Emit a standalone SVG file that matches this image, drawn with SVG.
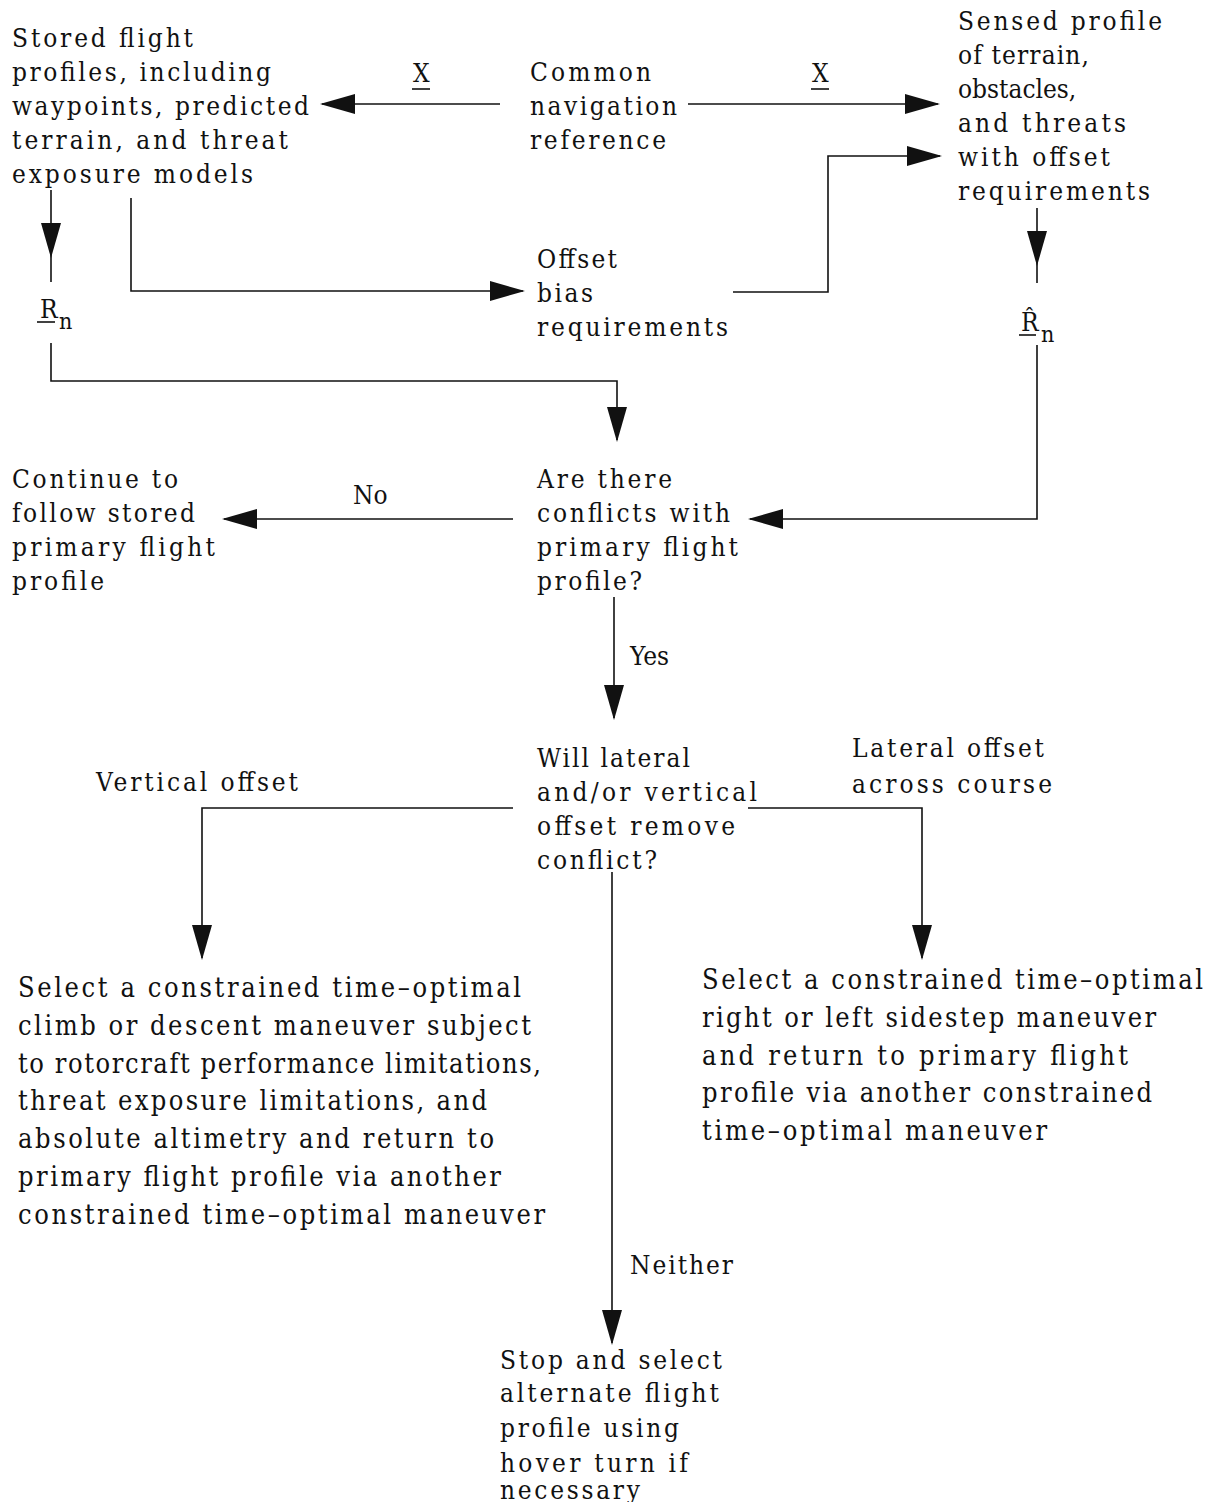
<svg xmlns="http://www.w3.org/2000/svg" xmlns:xlink="http://www.w3.org/1999/xlink" width="1209" height="1502" viewBox="0 0 1209 1502">
  <style>
    text { font-family: "DejaVu Serif Condensed", "DejaVu Serif", "Liberation Serif", serif; font-size: 26px; fill: #111; }
    .big { font-size: 27px; }
    .sub { font-size: 23px; }
    .wire { fill: none; stroke: #111; stroke-width: 1.6; }
    .ul { stroke: #111; stroke-width: 1.6; }
  </style>
  <defs>
    <!-- filled arrowhead, tip at the origin, pointing along +x -->
    <path id="ah" d="M0,0 L-35,-10 L-35,10 Z" fill="#111"/>
  </defs>
  <rect width="1209" height="1502" fill="#fff"/>

  <g id="connectors">
    <!-- common reference out to both sides -->
    <path class="wire" d="M500,104 H322"/>
    <use xlink:href="#ah" transform="translate(320,104) rotate(180)"/>
    <text x="413" y="82">X</text>
    <line class="ul" x1="412" y1="89" x2="430" y2="89"/>
    <path class="wire" d="M688,104 H938"/>
    <use xlink:href="#ah" transform="translate(940,104)"/>
    <text x="812" y="82">X</text>
    <line class="ul" x1="811" y1="89" x2="829" y2="89"/>

    <!-- stored profiles to offset bias -->
    <path class="wire" d="M131,198 V291 H523"/>
    <use xlink:href="#ah" transform="translate(525,291)"/>
    <!-- offset bias to sensed profile -->
    <path class="wire" d="M733,292 H828 V156 H940"/>
    <use xlink:href="#ah" transform="translate(942,156)"/>

    <!-- stored profiles down to R_n -->
    <path class="wire" d="M51,190 V282"/>
    <use xlink:href="#ah" transform="translate(51,258) rotate(90)"/>
    <text x="40" y="318">R</text>
    <text class="sub" x="59" y="329">n</text>
    <line class="ul" x1="37" y1="322" x2="55" y2="322"/>
    <!-- R_n to the conflict test -->
    <path class="wire" d="M51,343 V381 H617 V440"/>
    <use xlink:href="#ah" transform="translate(617,442) rotate(90)"/>

    <!-- sensed profile down to R-hat_n -->
    <path class="wire" d="M1037,208 V283"/>
    <use xlink:href="#ah" transform="translate(1037,266) rotate(90)"/>
    <text x="1021" y="331">R̂</text>
    <text class="sub" x="1041" y="342">n</text>
    <line class="ul" x1="1019" y1="335" x2="1036" y2="335"/>
    <!-- R-hat_n to the conflict test -->
    <path class="wire" d="M1037,345 V519 H750"/>
    <use xlink:href="#ah" transform="translate(748,519) rotate(180)"/>

    <!-- No -->
    <path class="wire" d="M513,519 H224"/>
    <use xlink:href="#ah" transform="translate(222,519) rotate(180)"/>
    <text x="353" y="504">No</text>

    <!-- Yes -->
    <path class="wire" d="M614,597 V718"/>
    <use xlink:href="#ah" transform="translate(614,720) rotate(90)"/>
    <text x="630" y="665">Yes</text>

    <!-- Vertical offset branch -->
    <path class="wire" d="M513,808 H202 V958"/>
    <use xlink:href="#ah" transform="translate(202,960) rotate(90)"/>
    <text x="96" y="791" textLength="202" lengthAdjust="spacing">Vertical offset</text>

    <!-- Lateral offset branch -->
    <path class="wire" d="M748,808 H922 V958"/>
    <use xlink:href="#ah" transform="translate(922,960) rotate(90)"/>
    <text x="852" y="757" textLength="192" lengthAdjust="spacing">Lateral offset</text>
    <text x="852" y="793" textLength="200" lengthAdjust="spacing">across course</text>

    <!-- Neither -->
    <path class="wire" d="M612,872 V1343"/>
    <use xlink:href="#ah" transform="translate(612,1345) rotate(90)"/>
    <text x="630" y="1274" textLength="103" lengthAdjust="spacing">Neither</text>
  </g>

  <g id="stored-profiles">
    <text x="12" y="47" textLength="181" lengthAdjust="spacing">Stored flight</text>
    <text x="12" y="81" textLength="259" lengthAdjust="spacing">profiles, including</text>
    <text x="12" y="115" textLength="297" lengthAdjust="spacing">waypoints, predicted</text>
    <text x="12" y="149" textLength="276" lengthAdjust="spacing">terrain, and threat</text>
    <text x="12" y="183" textLength="241" lengthAdjust="spacing">exposure models</text>
  </g>

  <g id="common-reference">
    <text x="530" y="81" textLength="121" lengthAdjust="spacing">Common</text>
    <text x="530" y="115" textLength="147" lengthAdjust="spacing">navigation</text>
    <text x="530" y="149" textLength="136" lengthAdjust="spacing">reference</text>
  </g>

  <g id="sensed-profile">
    <text x="958" y="30" textLength="204" lengthAdjust="spacing">Sensed profile</text>
    <text x="958" y="64" textLength="131" lengthAdjust="spacing">of terrain,</text>
    <text x="958" y="98">obstacles,</text>
    <text x="958" y="132" textLength="168" lengthAdjust="spacing">and threats</text>
    <text x="958" y="166" textLength="152" lengthAdjust="spacing">with offset</text>
    <text x="958" y="200" textLength="192" lengthAdjust="spacing">requirements</text>
  </g>

  <g id="offset-bias">
    <text x="537" y="268" textLength="80" lengthAdjust="spacing">Offset</text>
    <text x="537" y="302" textLength="56" lengthAdjust="spacing">bias</text>
    <text x="537" y="336" textLength="191" lengthAdjust="spacing">requirements</text>
  </g>

  <g id="conflict-test">
    <text x="537" y="488" textLength="135" lengthAdjust="spacing">Are there</text>
    <text x="537" y="522" textLength="193" lengthAdjust="spacing">conflicts with</text>
    <text x="537" y="556" textLength="201" lengthAdjust="spacing">primary flight</text>
    <text x="537" y="590" textLength="105" lengthAdjust="spacing">profile?</text>
  </g>

  <g id="continue-primary">
    <text x="12" y="488" textLength="166" lengthAdjust="spacing">Continue to</text>
    <text x="12" y="522" textLength="183" lengthAdjust="spacing">follow stored</text>
    <text x="12" y="556" textLength="203" lengthAdjust="spacing">primary flight</text>
    <text x="12" y="590" textLength="92" lengthAdjust="spacing">profile</text>
  </g>

  <g id="offset-test">
    <text x="537" y="767" textLength="153" lengthAdjust="spacing">Will lateral</text>
    <text x="537" y="801" textLength="220" lengthAdjust="spacing">and/or vertical</text>
    <text x="537" y="835" textLength="198" lengthAdjust="spacing">offset remove</text>
    <text x="537" y="869" textLength="120" lengthAdjust="spacing">conflict?</text>
  </g>

  <g id="climb-descent">
    <text class="big" x="18" y="997" textLength="503" lengthAdjust="spacing">Select a constrained time–optimal</text>
    <text class="big" x="18" y="1035" textLength="513" lengthAdjust="spacing">climb or descent maneuver subject</text>
    <text class="big" x="18" y="1073" textLength="523" lengthAdjust="spacing">to rotorcraft performance limitations,</text>
    <text class="big" x="18" y="1110" textLength="469" lengthAdjust="spacing">threat exposure limitations, and</text>
    <text class="big" x="18" y="1148" textLength="476" lengthAdjust="spacing">absolute altimetry and return to</text>
    <text class="big" x="18" y="1186" textLength="483" lengthAdjust="spacing">primary flight profile via another</text>
    <text class="big" x="18" y="1224" textLength="527" lengthAdjust="spacing">constrained time–optimal maneuver</text>
  </g>

  <g id="sidestep">
    <text class="big" x="702" y="989" textLength="501" lengthAdjust="spacing">Select a constrained time–optimal</text>
    <text class="big" x="702" y="1027" textLength="454" lengthAdjust="spacing">right or left sidestep maneuver</text>
    <text class="big" x="702" y="1065" textLength="426" lengthAdjust="spacing">and return to primary flight</text>
    <text class="big" x="702" y="1102" textLength="450" lengthAdjust="spacing">profile via another constrained</text>
    <text class="big" x="702" y="1140" textLength="345" lengthAdjust="spacing">time–optimal maneuver</text>
  </g>

  <g id="stop-hover">
    <text x="500" y="1369" textLength="222" lengthAdjust="spacing">Stop and select</text>
    <text x="500" y="1402" textLength="219" lengthAdjust="spacing">alternate flight</text>
    <text x="500" y="1437" textLength="179" lengthAdjust="spacing">profile using</text>
    <text x="500" y="1472" textLength="188" lengthAdjust="spacing">hover turn if</text>
    <text x="500" y="1499" textLength="140" lengthAdjust="spacing">necessary</text>
  </g>
</svg>
